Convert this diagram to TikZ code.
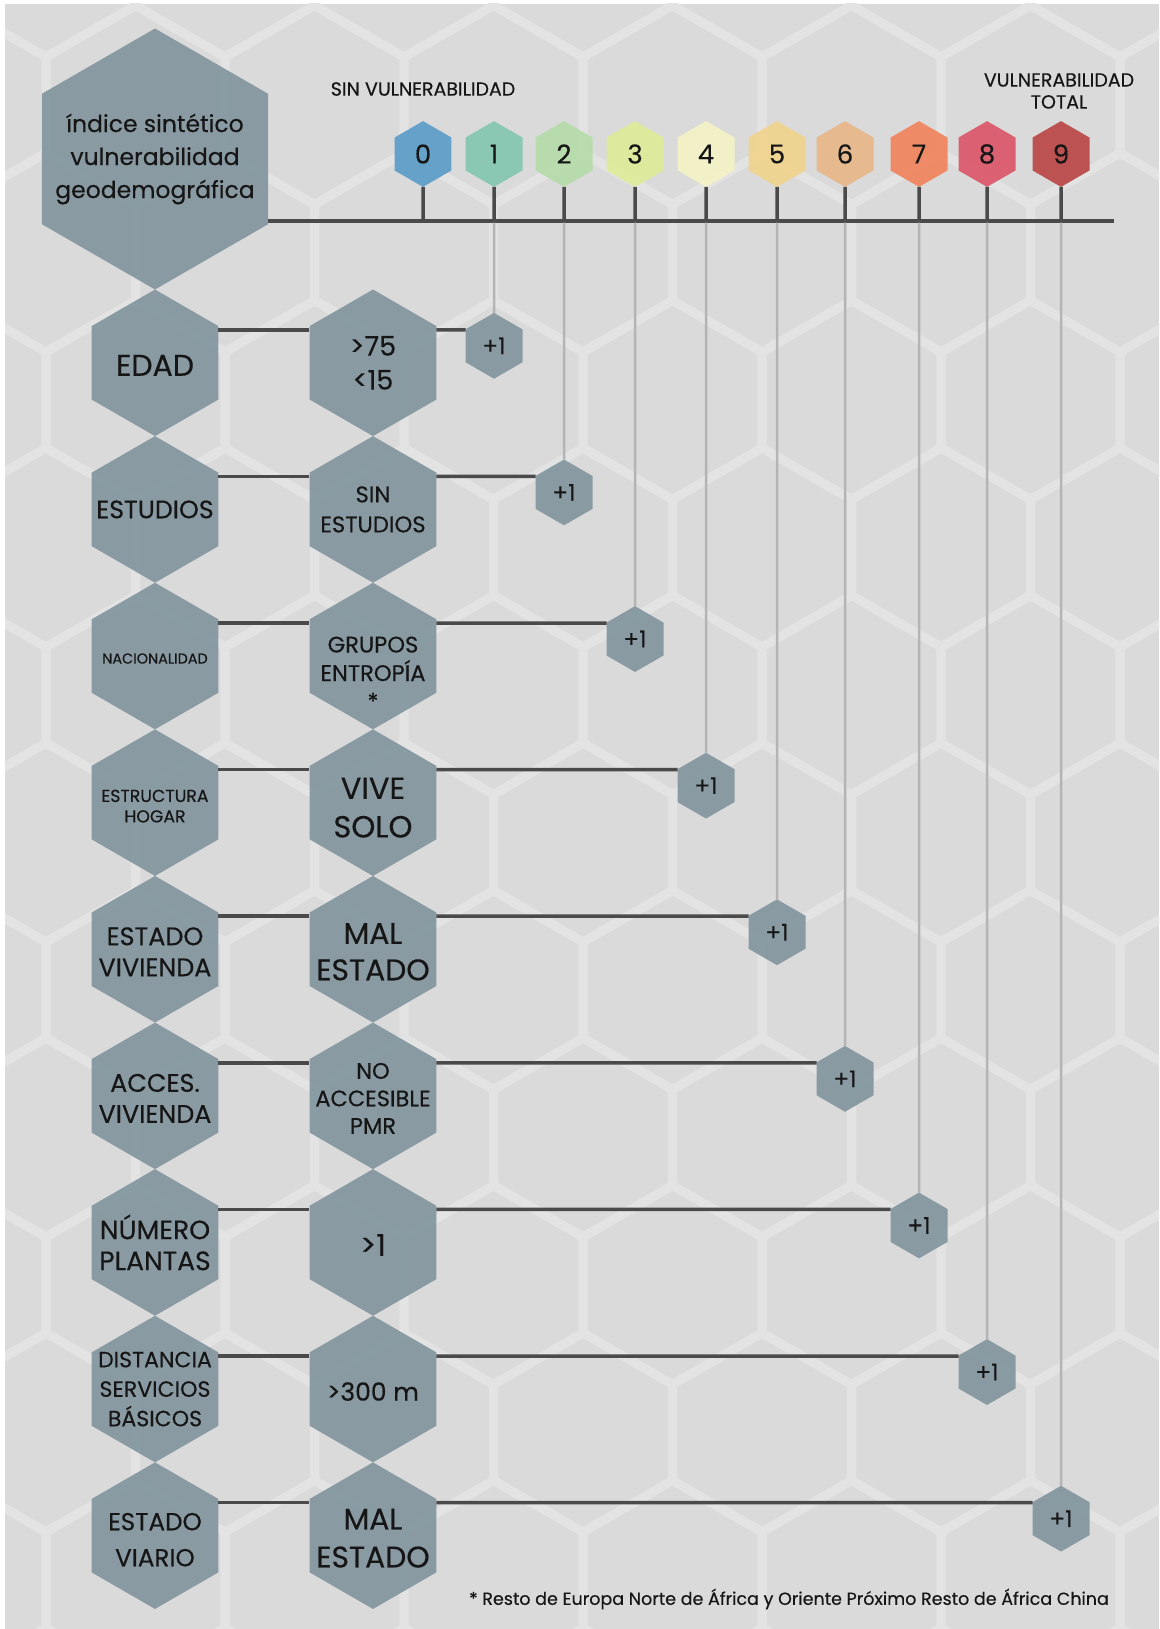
\documentclass[tikz,border=0pt]{standalone}
\usepackage{fontspec}
\setmainfont{Poppins}[FakeBold=0.35]
\usepackage{tikz}
\usetikzlibrary{shapes.geometric, positioning}
\definecolor{HexSlate}{RGB}{132,151,159}
\definecolor{PageGray}{RGB}{218,218,218}
\definecolor{CombGray}{RGB}{227,227,227}
\definecolor{LinkGray}{RGB}{74,74,74}
\definecolor{DropGray}{RGB}{180,180,180}
\definecolor{InkBlack}{RGB}{22,22,22}
\definecolor{Lvl0}{RGB}{95,158,200}
\definecolor{Lvl1}{RGB}{134,200,177}
\definecolor{Lvl2}{RGB}{182,220,171}
\definecolor{Lvl3}{RGB}{222,235,155}
\definecolor{Lvl4}{RGB}{244,242,198}
\definecolor{Lvl5}{RGB}{240,212,144}
\definecolor{Lvl6}{RGB}{232,184,140}
\definecolor{Lvl7}{RGB}{240,135,96}
\definecolor{Lvl8}{RGB}{220,91,109}
\definecolor{Lvl9}{RGB}{187,75,75}
\newcommand{\fz}[2]{\fontsize{#1}{#2}\selectfont}

\begin{document}
\begin{tikzpicture}[x=1pt, y=-1pt, every node/.style={text=InkBlack, align=center},
  hexshape/.style={regular polygon, regular polygon sides=6, shape border rotate=30, inner sep=0pt, outer sep=0pt},
  titlehex/.style={hexshape, fill=HexSlate, fill opacity=0.94, minimum size=261pt},
  rowhex/.style={hexshape, fill=HexSlate, fill opacity=0.94, minimum size=146.6pt},
  lvlhex/.style={hexshape, minimum size=65.8pt, fill opacity=0.95, text opacity=1, font=\fz{26}{30}},
  plushex/.style={hexshape, fill=HexSlate, fill opacity=0.94, text opacity=1, minimum size=65.8pt, font=\fz{23}{26}},
  lbl/.style={yshift=-2.5pt},
  link/.style={line width=3.5pt, draw=LinkGray},
  stem/.style={line width=3.5pt, draw=LinkGray},
  drop/.style={line width=2.5pt, draw=DropGray},
  comb/.style={line width=9pt, draw=CombGray}]
\useasboundingbox (0,0) rectangle (1159,1629);
\fill[white] (0,0) rectangle (1159,1629);
\fill[PageGray] (5,4) rectangle (1159,1629);

% honeycomb in the back
\begin{scope}
\clip (5,4) rectangle (1159,1629);
\foreach \r in {-3,...,9}
  \foreach \m in {-4,...,3} {
    \pgfmathsetmacro\cx{672.5+179*\m+89.5*abs(mod(\r,2))}
    \pgfmathsetmacro\cy{400+147.5*\r}
    \draw[comb] (\cx,\cy-99.5) -- ++(89.5,51.5) -- ++(0,96) -- ++(-89.5,51.5) -- ++(-89.5,-51.5) -- ++(0,-96) -- cycle;
  }
\end{scope}

% title and scale
\node[titlehex] (title) at (155,159) {};
\node (titlet) [font=\fz{23.5}{33}] at (155,159) {índice sintético\\vulnerabilidad\\geodemográfica};
\coordinate (axisend) at (1114,221);
\foreach \k/\xx/\tone in {0/423/Lvl0, 1/494/Lvl1, 2/564/Lvl2, 3/635/Lvl3, 4/706/Lvl4, 5/777/Lvl5, 6/845/Lvl6, 7/919/Lvl7, 8/987/Lvl8, 9/1061/Lvl9}
  \node[lvlhex, fill=\tone] (lvl\k) at (\xx,154) {\k};
\foreach \k in {0,...,9}
  \draw[stem] (lvl\k.south) -- (lvl\k |- axisend);
\draw[stem] (title.east |- axisend) -- (axisend);
\node (sinv) [font=\fz{19}{22}] at (423,89) {SIN VULNERABILIDAD};
\node (totalv) [font=\fz{19}{22}] at (1059,91) {VULNERABILIDAD\\TOTAL};

% rows
\node[rowhex] (edad) [below=0pt of title] {};
\node[rowhex] (edadv) [right=91pt of edad] {};
\node[plushex, yshift=17pt] (plus1) at (lvl1 |- edad) {+1};
\node (edadt) [lbl, font=\fz{30}{34}] at (edad) {EDAD};
\node (edadvt) [font=\fz{27}{34}] at (edadv) {>75\\<15};
\draw[link] ([yshift=33pt]edad.east) -- ([yshift=33pt]edadv.west);
\draw[link] ([yshift=33pt]edadv.east) -- ([yshift=16pt]plus1.west);

\node[rowhex] (estudios) [below=0pt of edad] {};
\node[rowhex] (estudiosv) [right=91pt of estudios] {};
\node[plushex, yshift=17pt] (plus2) at (lvl2 |- estudios) {+1};
\node (estudiost) [font=\fz{25.3}{30}] at (estudios) {ESTUDIOS};
\node (estudiosvt) [font=\fz{22.7}{30}] at (estudiosv) {SIN\\ESTUDIOS};
\draw[link] ([yshift=33pt]estudios.east) -- ([yshift=33pt]estudiosv.west);
\draw[link] ([yshift=33pt]estudiosv.east) -- ([yshift=16pt]plus2.west);

\node[rowhex] (nacion) [below=0pt of estudios] {};
\node[rowhex] (nacionv) [right=91pt of nacion] {};
\node[plushex, yshift=17pt] (plus3) at (lvl3 |- nacion) {+1};
\node (naciont) [lbl, font=\fz{14.4}{18}] at (nacion) {NACIONALIDAD};
\node (nacionvt) [font=\fz{22.6}{28.5}, yshift=-17pt] at (nacionv) {GRUPOS\\ENTROPÍA\\*};
\draw[link] ([yshift=33pt]nacion.east) -- ([yshift=33pt]nacionv.west);
\draw[link] ([yshift=33pt]nacionv.east) -- ([yshift=16pt]plus3.west);

\node[rowhex] (hogar) [below=0pt of nacion] {};
\node[rowhex] (hogarv) [right=91pt of hogar] {};
\node[plushex, yshift=17pt] (plus4) at (lvl4 |- hogar) {+1};
\node (hogart) [yshift=-3.5pt, font=\fz{17.3}{20.5}] at (hogar) {ESTRUCTURA\\HOGAR};
\node (hogarvt) [yshift=-5pt, font=\fz{30.5}{38.5}] at (hogarv) {VIVE\\SOLO};
\draw[link] ([yshift=33pt]hogar.east) -- ([yshift=33pt]hogarv.west);
\draw[link] ([yshift=33pt]hogarv.east) -- ([yshift=16pt]plus4.west);

\node[rowhex] (vivienda) [below=0pt of hogar] {};
\node[rowhex] (viviendav) [right=91pt of vivienda] {};
\node[plushex, yshift=17pt] (plus5) at (lvl5 |- vivienda) {+1};
\node (viviendat) [lbl, font=\fz{25.4}{31}] at (vivienda) {ESTADO\\VIVIENDA};
\node (viviendavt) [lbl, font=\fz{29.8}{36.5}] at (viviendav) {MAL\\ESTADO};
\draw[link] ([yshift=33pt]vivienda.east) -- ([yshift=33pt]viviendav.west);
\draw[link] ([yshift=33pt]viviendav.east) -- ([yshift=16pt]plus5.west);

\node[rowhex] (acceso) [below=0pt of vivienda] {};
\node[rowhex] (accesov) [right=91pt of acceso] {};
\node[plushex, yshift=17pt] (plus6) at (lvl6 |- acceso) {+1};
\node (accesot) [lbl, font=\fz{25.4}{31}] at (acceso) {ACCES.\\VIVIENDA};
\node (accesovt) [lbl, font=\fz{22.5}{27.5}] at (accesov) {NO\\ACCESIBLE\\PMR};
\draw[link] ([yshift=33pt]acceso.east) -- ([yshift=33pt]accesov.west);
\draw[link] ([yshift=33pt]accesov.east) -- ([yshift=16pt]plus6.west);

\node[rowhex] (plantas) [below=0pt of acceso] {};
\node[rowhex] (plantasv) [right=91pt of plantas] {};
\node[plushex, yshift=17pt] (plus7) at (lvl7 |- plantas) {+1};
\node (plantast) [font=\fz{26.6}{31}] at (plantas) {NÚMERO\\PLANTAS};
\node (plantasvt) [lbl, font=\fz{30}{34}] at (plantasv) {>1};
\draw[link] ([yshift=33pt]plantas.east) -- ([yshift=33pt]plantasv.west);
\draw[link] ([yshift=33pt]plantasv.east) -- ([yshift=16pt]plus7.west);

\node[rowhex] (servicios) [below=0pt of plantas] {};
\node[rowhex] (serviciosv) [right=91pt of servicios] {};
\node[plushex, yshift=17pt] (plus8) at (lvl8 |- servicios) {+1};
\node (serviciost) [font=\fz{22.1}{29.5}] at (servicios) {DISTANCIA\\SERVICIOS\\BÁSICOS};
\node (serviciosvt) [lbl, font=\fz{25}{30}] at (serviciosv) {>300 m};
\draw[link] ([yshift=33pt]servicios.east) -- ([yshift=33pt]serviciosv.west);
\draw[link] ([yshift=33pt]serviciosv.east) -- ([yshift=16pt]plus8.west);

\node[rowhex] (viario) [below=0pt of servicios] {};
\node[rowhex] (viariov) [right=91pt of viario] {};
\node[plushex, yshift=17pt] (plus9) at (lvl9 |- viario) {+1};
\node (viariot) [yshift=-4pt, font=\fz{24.6}{36}] at (viario) {ESTADO\\VIARIO};
\node (viariovt) [lbl, font=\fz{29.8}{38}] at (viariov) {MAL\\ESTADO};
\draw[link] ([yshift=33pt]viario.east) -- ([yshift=33pt]viariov.west);
\draw[link] ([yshift=33pt]viariov.east) -- ([yshift=16pt]plus9.west);

% drops from the scale to each +1
\foreach \k in {1,...,9}
  \draw[drop] ([yshift=-1.75pt]lvl\k |- axisend) -- (plus\k.north);

\node (fnote) [font=\fz{17.5}{20}] at (789,1599) {* Resto de Europa Norte de África y Oriente Próximo Resto de África China};
\end{tikzpicture}
\end{document}
